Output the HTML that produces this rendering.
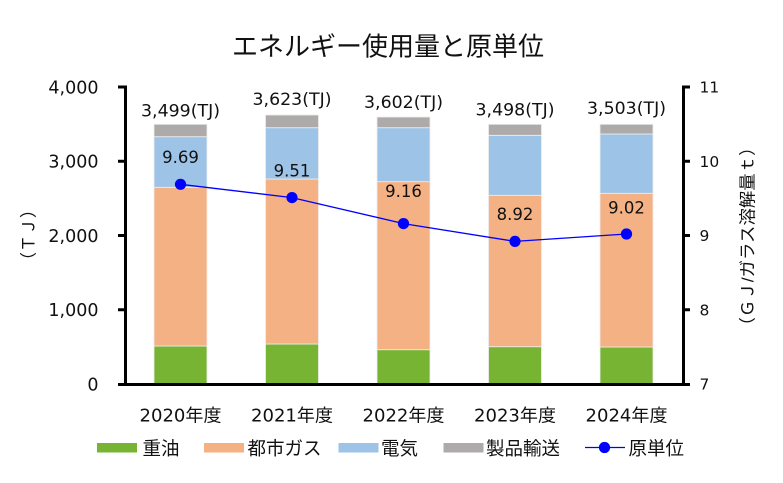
<!DOCTYPE html>
<html><head><meta charset="utf-8"><style>
html,body{margin:0;padding:0;background:#fff;}
svg{display:block;}
.n{font-family:"DejaVu Sans","Liberation Sans",sans-serif;fill:#111;}
.j{font-family:"Liberation Sans","Noto Sans CJK JP",sans-serif;fill:#111;}
</style></head><body>
<svg width="783" height="483" viewBox="0 0 783 483" xmlns="http://www.w3.org/2000/svg">
<rect width="783" height="483" fill="#fff"/>
<text class="j" x="388" y="55.5" font-size="26" text-anchor="middle">エネルギー使用量と原単位</text>

<!-- bars -->
<g stroke="#eeeeee" stroke-width="0.8">
<!-- bar1 -->
<rect x="154" y="346" width="53" height="38" fill="#78b433"/>
<rect x="154" y="187.3" width="53" height="158.7" fill="#f4b183"/>
<rect x="154" y="136.7" width="53" height="50.6" fill="#9dc3e6"/>
<rect x="154" y="124.3" width="53" height="12.4" fill="#aeaaaa"/>
<!-- bar2 -->
<rect x="265.5" y="344" width="53" height="40" fill="#78b433"/>
<rect x="265.5" y="179" width="53" height="165" fill="#f4b183"/>
<rect x="265.5" y="127.7" width="53" height="51.3" fill="#9dc3e6"/>
<rect x="265.5" y="115" width="53" height="12.7" fill="#aeaaaa"/>
<!-- bar3 -->
<rect x="377" y="349.7" width="53" height="34.3" fill="#78b433"/>
<rect x="377" y="181.7" width="53" height="168" fill="#f4b183"/>
<rect x="377" y="127.7" width="53" height="54" fill="#9dc3e6"/>
<rect x="377" y="117" width="53" height="10.7" fill="#aeaaaa"/>
<!-- bar4 -->
<rect x="488.5" y="346.7" width="53" height="37.3" fill="#78b433"/>
<rect x="488.5" y="195.3" width="53" height="151.4" fill="#f4b183"/>
<rect x="488.5" y="135.3" width="53" height="60" fill="#9dc3e6"/>
<rect x="488.5" y="124.3" width="53" height="11" fill="#aeaaaa"/>
<!-- bar5 -->
<rect x="600" y="347" width="53" height="37" fill="#78b433"/>
<rect x="600" y="193.3" width="53" height="153.7" fill="#f4b183"/>
<rect x="600" y="134" width="53" height="59.3" fill="#9dc3e6"/>
<rect x="600" y="124.3" width="53" height="9.7" fill="#aeaaaa"/>
</g>

<!-- totals -->
<g class="n" font-size="17" text-anchor="middle">
<text x="180.5" y="116.5" textLength="79" lengthAdjust="spacingAndGlyphs">3,499(TJ)</text>
<text x="292" y="105" textLength="79" lengthAdjust="spacingAndGlyphs">3,623(TJ)</text>
<text x="403.5" y="108" textLength="79" lengthAdjust="spacingAndGlyphs">3,602(TJ)</text>
<text x="515" y="115.5" textLength="79" lengthAdjust="spacingAndGlyphs">3,498(TJ)</text>
<text x="626.5" y="114" textLength="79" lengthAdjust="spacingAndGlyphs">3,503(TJ)</text>
</g>

<!-- line -->
<polyline points="180.5,184.3 292,197.6 403.5,223.6 515,241.4 626.5,234" fill="none" stroke="#0000ff" stroke-width="1.3"/>
<g fill="#0000ff">
<circle cx="180.5" cy="184.3" r="5.6"/>
<circle cx="292" cy="197.6" r="5.6"/>
<circle cx="403.5" cy="223.6" r="5.6"/>
<circle cx="515" cy="241.4" r="5.6"/>
<circle cx="626.5" cy="234" r="5.6"/>
</g>
<g class="n" font-size="16.5" text-anchor="middle">
<text x="180.5" y="163">9.69</text>
<text x="292" y="176.5">9.51</text>
<text x="403.5" y="197">9.16</text>
<text x="515" y="220">8.92</text>
<text x="626.5" y="213.5">9.02</text>
</g>

<!-- axes -->
<g stroke="#000" stroke-width="3" fill="none">
<line x1="125.5" y1="85.5" x2="125.5" y2="385.5"/>
<line x1="683.5" y1="85.5" x2="683.5" y2="385.5"/>
<line x1="118" y1="384.5" x2="690" y2="384.5"/>
<line x1="118" y1="87" x2="125" y2="87"/>
<line x1="118" y1="161.25" x2="125" y2="161.25"/>
<line x1="118" y1="235.5" x2="125" y2="235.5"/>
<line x1="118" y1="309.75" x2="125" y2="309.75"/>
<line x1="684" y1="87" x2="690" y2="87"/>
<line x1="684" y1="161.25" x2="690" y2="161.25"/>
<line x1="684" y1="235.5" x2="690" y2="235.5"/>
<line x1="684" y1="309.75" x2="690" y2="309.75"/>
</g>

<!-- left tick labels -->
<g class="n" font-size="17.5" text-anchor="end">
<text x="98.5" y="93.5">4,000</text>
<text x="98.5" y="167.7">3,000</text>
<text x="98.5" y="242">2,000</text>
<text x="98.5" y="316.2">1,000</text>
<text x="98.5" y="390.5">0</text>
</g>
<!-- right tick labels -->
<g class="n" font-size="15.5" text-anchor="start">
<text x="699.5" y="92.7">11</text>
<text x="699.5" y="166.9">10</text>
<text x="699.5" y="241.2">9</text>
<text x="699.5" y="315.4">8</text>
<text x="699.5" y="389.7">7</text>
</g>

<!-- axis titles -->
<text class="j" font-size="17" text-anchor="middle" dominant-baseline="central" transform="translate(29,235) rotate(-90)">（ＴＪ）</text>
<text class="j" font-size="17" text-anchor="middle" dominant-baseline="central" transform="translate(748,236.5) rotate(-90)" textLength="196" lengthAdjust="spacingAndGlyphs">（ＧＪ/ガラス溶解量ｔ）</text>

<!-- categories -->
<g class="n" font-size="17.5" text-anchor="middle">
<text x="180.5" y="421.5" textLength="82" lengthAdjust="spacingAndGlyphs">2020<tspan font-family="Noto Sans CJK JP">年度</tspan></text>
<text x="292" y="421.5" textLength="82" lengthAdjust="spacingAndGlyphs">2021<tspan font-family="Noto Sans CJK JP">年度</tspan></text>
<text x="403.5" y="421.5" textLength="82" lengthAdjust="spacingAndGlyphs">2022<tspan font-family="Noto Sans CJK JP">年度</tspan></text>
<text x="515" y="421.5" textLength="82" lengthAdjust="spacingAndGlyphs">2023<tspan font-family="Noto Sans CJK JP">年度</tspan></text>
<text x="626.5" y="421.5" textLength="82" lengthAdjust="spacingAndGlyphs">2024<tspan font-family="Noto Sans CJK JP">年度</tspan></text>
</g>

<!-- legend -->
<rect x="97" y="443" width="40" height="9.5" fill="#78b433"/>
<rect x="204" y="443" width="40" height="9.5" fill="#f4b183"/>
<rect x="338.5" y="443" width="40" height="9.5" fill="#9dc3e6"/>
<rect x="443.5" y="443" width="40" height="9.5" fill="#aeaaaa"/>
<line x1="585" y1="447.5" x2="625" y2="447.5" stroke="#0000ff" stroke-width="1.3"/>
<circle cx="604.5" cy="447.5" r="5.6" fill="#0000ff"/>
<g class="j" font-size="18.5">
<text x="142.5" y="455">重油</text>
<text x="247.5" y="455">都市ガス</text>
<text x="381" y="455">電気</text>
<text x="486" y="455">製品輸送</text>
<text x="628.5" y="455">原単位</text>
</g>
</svg>
</body></html>
